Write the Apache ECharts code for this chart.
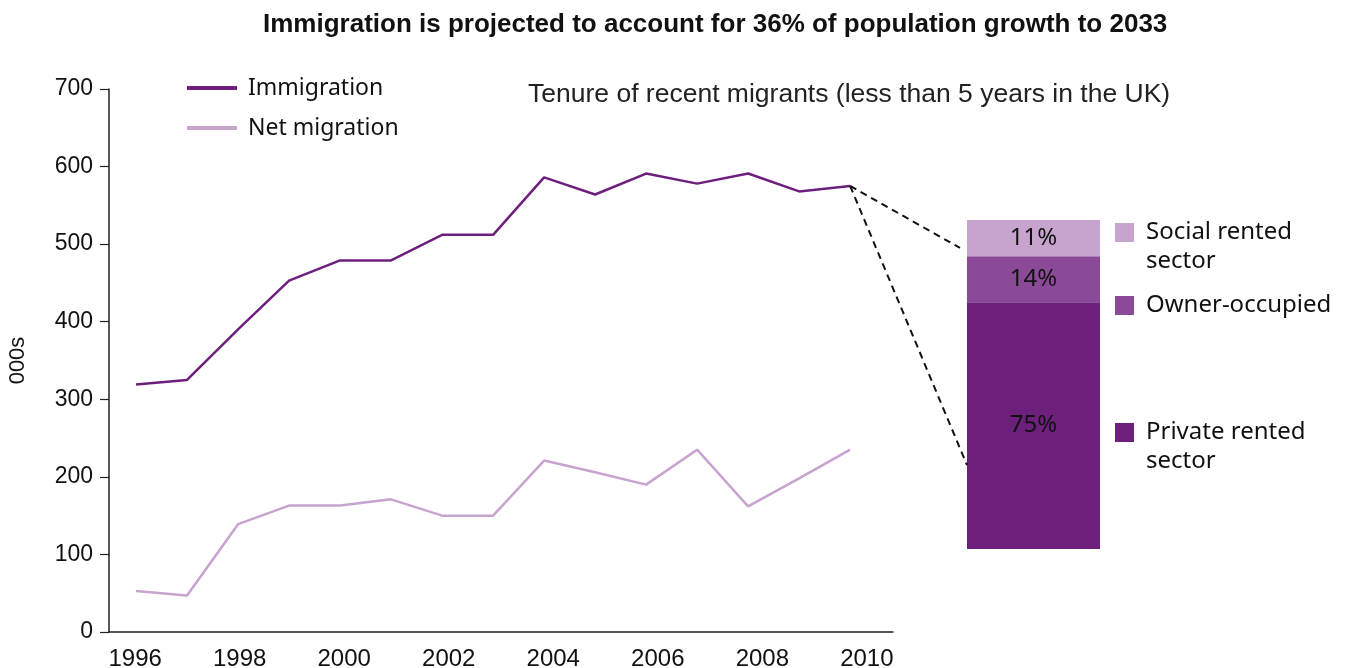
<!DOCTYPE html>
<html>
<head>
<meta charset="utf-8">
<title>Immigration and tenure of recent migrants</title>
<script src="https://cdn.jsdelivr.net/npm/echarts@6.0.0/dist/echarts.min.js"></script>
<style>
  html, body { margin: 0; padding: 0; background: #fff; }
  #chart { width: 1347px; height: 668px; }
</style>
</head>
<body>
<div id="chart"></div>
<script>
  // yearly flows, thousands
  const years = [1996, 1997, 1998, 1999, 2000, 2001, 2002, 2003, 2004, 2005, 2006, 2007, 2008, 2009, 2010];
  const immigration = [319, 325, 390, 453, 479, 479, 512, 512, 586, 564, 591, 578, 591, 568, 575];
  const netMigration = [53, 47, 139, 163, 163, 171, 150, 150, 221, 206, 190, 235, 162, 198, 235];
  const yTicks = [0, 100, 200, 300, 400, 500, 600, 700];

  // tenure of recent migrants, % (bottom to top)
  const tenureNames = ['Private rented sector', 'Owner-occupied', 'Social rented sector'];
  const tenureShares = [75, 14, 11];
  const tenureColors = ['#6c1f7b', '#8b4a97', '#c7a4cd'];

  const sideFont = 'Noto Sans';
  const axisFont = 'Liberation Sans';

  const chart = echarts.init(document.getElementById('chart'));

  // two-line names get an empty first line so the square sits by the first line
  const legendText = (name) => (name.indexOf(' sector') > 0 ? '\n' + name.replace(' sector', '\nsector') : name);

  const tenureLegend = (name, top) => ({
    data: [name],
    orient: 'vertical',
    left: 1115,
    top: top,
    padding: 0,
    icon: 'rect',
    itemWidth: 19,
    itemHeight: 19,
    selectedMode: false,
    formatter: legendText,
    textStyle: {
      fontFamily: sideFont,
      fontSize: 24,
      lineHeight: 29,
      color: '#111',
      padding: [0, 0, 0, 7],
    },
  });

  const getOption = () => ({
    animation: false,
    title: [
      {
        text: 'Immigration is projected to account for 36% of population growth to 2033',
        left: 263,
        top: 12,
        padding: 0,
        textStyle: { fontFamily: axisFont, fontSize: 26, fontWeight: 'bold', color: '#111' },
      },
      {
        text: 'Tenure of recent migrants (less than 5 years in the UK)',
        left: 528,
        top: 81,
        padding: 0,
        textStyle: { fontFamily: axisFont, fontSize: 26.5, fontWeight: 'normal', color: '#222' },
      },
    ],
    legend: [
      {
        data: ['Immigration', 'Net migration'],
        orient: 'vertical',
        left: 187,
        top: 74,
        padding: 0,
        icon: 'rect',
        itemWidth: 50,
        itemHeight: 4,
        itemGap: 12,
        selectedMode: false,
        textStyle: { fontFamily: sideFont, fontSize: 23, lineHeight: 28, color: '#111', padding: [0, 0, 0, 6] },
      },
      tenureLegend(tenureNames[2], 189),
      tenureLegend(tenureNames[1], 291),
      tenureLegend(tenureNames[0], 389),
    ],
    grid: [
      { left: 109, right: 454, top: 89, bottom: 36, outerBoundsMode: 'none' },
      { left: 967, width: 133, top: 220, bottom: 119, outerBoundsMode: 'none' },
    ],
    xAxis: [
      {
        type: 'category',
        gridIndex: 0,
        data: years.map(String),
        boundaryGap: true,
        axisLine: { lineStyle: { color: '#222', width: 1.5 } },
        axisTick: { interval: 0, length: 7, lineStyle: { color: '#222', width: 1.2 } },
        axisLabel: { interval: 1, fontFamily: axisFont, fontSize: 24, color: '#111', margin: 15 },
      },
      {
        type: 'value',
        gridIndex: 0,
        min: 1995.47,
        max: 2010.84,
        show: false,
      },
      {
        type: 'category',
        gridIndex: 1,
        data: ['tenure'],
        show: false,
      },
    ],
    yAxis: [
      {
        type: 'value',
        gridIndex: 0,
        min: yTicks[0],
        max: yTicks[yTicks.length - 1],
        interval: 100,
        name: '000s',
        nameLocation: 'middle',
        nameGap: 80,
        nameTextStyle: { fontFamily: axisFont, fontSize: 22, color: '#111' },
        axisLine: { show: true, lineStyle: { color: '#222', width: 1.5 } },
        axisTick: { show: true, length: 9, lineStyle: { color: '#222', width: 1.2 } },
        axisLabel: { fontFamily: axisFont, fontSize: 23, color: '#111', margin: 16 },
        splitLine: { show: false },
      },
      {
        type: 'value',
        gridIndex: 1,
        min: 0,
        max: 100,
        show: false,
      },
    ],
    series: [
      {
        name: 'Immigration',
        type: 'line',
        xAxisIndex: 1,
        yAxisIndex: 0,
        showSymbol: false,
        color: '#6e1f7e',
        lineStyle: { width: 2.5 },
        data: years.map((y, i) => [y, immigration[i]]),
      },
      {
        name: 'Net migration',
        type: 'line',
        xAxisIndex: 1,
        yAxisIndex: 0,
        showSymbol: false,
        color: '#c8a3d0',
        lineStyle: { width: 2.5 },
        data: years.map((y, i) => [y, netMigration[i]]),
      },
      ...tenureNames.map((name, i) => ({
        name: name,
        type: 'bar',
        stack: 'tenure',
        xAxisIndex: 2,
        yAxisIndex: 1,
        barWidth: '100%',
        color: tenureColors[i],
        label: {
          show: true,
          position: 'inside',
          formatter: '{c}%',
          fontFamily: sideFont,
          fontSize: 24,
          color: '#111',
        },
        data: [tenureShares[i]],
      })),
    ],
  });

  chart.setOption(getOption());

  // dashed connectors from the last immigration point to the tenure bar
  const drawConnectors = () => {
    const last = years.length - 1;
    const start = chart.convertToPixel({ seriesIndex: 0 }, [years[last], immigration[last]]);
    const barRect = chart.getModel().getComponent('grid', 1).coordinateSystem.getRect();
    const upper = chart.convertToPixel({ gridIndex: 1 }, ['tenure', 91.5])[1];
    const lower = chart.convertToPixel({ gridIndex: 1 }, ['tenure', 25.5])[1];
    const dashed = { stroke: '#111', lineWidth: 2, lineDash: [7, 5] };
    chart.setOption({
      graphic: [
        { type: 'line', shape: { x1: start[0], y1: start[1], x2: barRect.x - 7, y2: upper }, style: dashed, z: 10 },
        { type: 'line', shape: { x1: start[0], y1: start[1], x2: barRect.x, y2: lower }, style: dashed, z: 10 },
      ],
    });
  };
  drawConnectors();
</script>
</body>
</html>
